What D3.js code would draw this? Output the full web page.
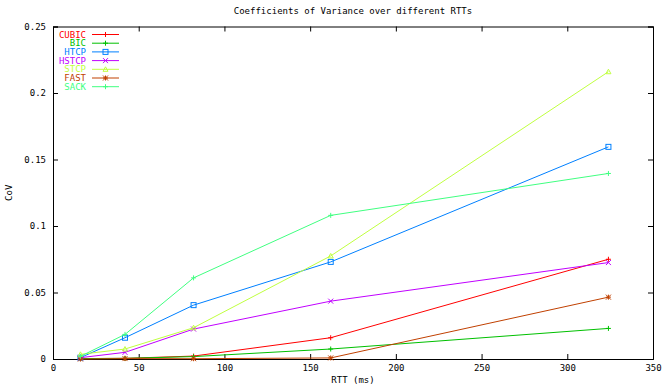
<!DOCTYPE html>
<html>
<head>
<meta charset="utf-8">
<script src="https://cdn.jsdelivr.net/npm/d3@7"></script>
<style>
  body { margin: 0; background: #fff; }
  text { font-family: "DejaVu Sans Mono", monospace; font-size: 9px; fill: #000; }
</style>
</head>
<body>
<div id="chart"></div>
<script>
// RTT values (ms) on the x axis
const rtts = [16, 42, 82, 162, 324];

// CoV per protocol
const cubic = [0.0003, 0.0005, 0.0022, 0.016, 0.075];
const bic = [0.0003, 0.0005, 0.0018, 0.0075, 0.023];
const htcp = [0.001, 0.016, 0.0405, 0.073, 0.1595];
const hstcp = [0.001, 0.005, 0.0225, 0.0435, 0.0725];
const stcp = [0.0035, 0.0075, 0.0235, 0.0775, 0.216];
const fast = [0.0, 0.0003, 0.0002, 0.0008, 0.0465];
const sack = [0.002, 0.0185, 0.061, 0.108, 0.1395];

const seriesNames = ["CUBIC", "BIC", "HTCP", "HSTCP", "STCP", "FAST", "SACK"];
const seriesValues = [cubic, bic, htcp, hstcp, stcp, fast, sack];

const xTicks = [0, 50, 100, 150, 200, 250, 300, 350];
const yTicks = [0, 0.05, 0.1, 0.15, 0.2, 0.25];

const colors = ["#ff0000", "#00c000", "#0080ff", "#c000ff", "#c0ff40", "#c04000", "#40ff80"];
const markers = ["plus", "plus", "box", "cross", "triangle", "star", "plus"];

const width = 669, height = 386;
const margin = { top: 26.5, right: 16, bottom: 27, left: 53 };

const x = d3.scaleLinear().domain([0, 350]).range([margin.left, width - margin.right]);
const y = d3.scaleLinear().domain([0, 0.25]).range([height - margin.bottom, margin.top]);

const svg = d3.select("#chart").append("svg")
  .attr("width", width)
  .attr("height", height);

// title
svg.append("text")
  .attr("x", (x(0) + x(350)) / 2)
  .attr("y", 14)
  .attr("text-anchor", "middle")
  .text("Coefficients of Variance over different RTTs");

// axes with inward ticks, mirrored on top and right
const tickLen = 5;
svg.append("g")
  .attr("transform", `translate(0,${y(0)})`)
  .call(d3.axisBottom(x).tickValues(xTicks).tickSize(-tickLen).tickPadding(6).tickFormat(d3.format("d")));
svg.append("g")
  .attr("transform", `translate(0,${y(0.25)})`)
  .call(d3.axisTop(x).tickValues(xTicks).tickSize(-tickLen).tickFormat(""));
svg.append("g")
  .attr("transform", `translate(${x(0)},0)`)
  .call(d3.axisLeft(y).tickValues(yTicks).tickSize(-tickLen).tickPadding(7).tickFormat(d => d === 0 ? "0" : d3.format("")(+d.toFixed(2))));
svg.append("g")
  .attr("transform", `translate(${x(350)},0)`)
  .call(d3.axisRight(y).tickValues(yTicks).tickSize(-tickLen).tickFormat(""));

svg.selectAll(".domain").attr("stroke", "#000");
svg.selectAll(".tick line").attr("stroke", "#000");
svg.selectAll(".tick text").style("font-family", "DejaVu Sans Mono, monospace").style("font-size", "9px");

// axis labels
svg.append("text")
  .attr("x", (x(0) + x(350)) / 2)
  .attr("y", 383)
  .attr("text-anchor", "middle")
  .text("RTT (ms)");
svg.append("text")
  .attr("transform", `translate(12,${(y(0) + y(0.25)) / 2}) rotate(-90)`)
  .attr("text-anchor", "middle")
  .text("CoV");

function drawMarker(g, type, cx, cy, color) {
  const s = 2.5;
  if (type === "plus") {
    g.append("path").attr("d", `M${cx - s},${cy}H${cx + s}M${cx},${cy - s}V${cy + s}`)
      .attr("stroke", color).attr("fill", "none");
  } else if (type === "cross") {
    g.append("path").attr("d", `M${cx - s},${cy - s}L${cx + s},${cy + s}M${cx - s},${cy + s}L${cx + s},${cy - s}`)
      .attr("stroke", color).attr("fill", "none");
  } else if (type === "star") {
    g.append("path").attr("d", `M${cx - s},${cy - s}L${cx + s},${cy + s}M${cx - s},${cy + s}L${cx + s},${cy - s}M${cx - s},${cy}H${cx + s}M${cx},${cy - s}V${cy + s}`)
      .attr("stroke", color).attr("fill", "none");
  } else if (type === "box") {
    g.append("rect").attr("x", cx - s).attr("y", cy - s).attr("width", 2 * s).attr("height", 2 * s)
      .attr("stroke", color).attr("fill", "none");
  } else if (type === "triangle") {
    g.append("path").attr("d", `M${cx},${cy - s}L${cx + s},${cy + s * 0.8}L${cx - s},${cy + s * 0.8}Z`)
      .attr("stroke", color).attr("fill", "none");
  }
}

const line = d3.line().x(d => x(d[0])).y(d => y(d[1]));

seriesValues.forEach(function (vals, i) {
  const pts = rtts.map((r, j) => [r, vals[j]]);
  const g = svg.append("g");
  g.append("path")
    .attr("d", line(pts))
    .attr("fill", "none")
    .attr("stroke", colors[i])
    .attr("stroke-width", 1);
  pts.forEach(p => drawMarker(g, markers[i], x(p[0]), y(p[1]), colors[i]));
});

// legend
const legend = svg.append("g");
seriesNames.forEach(function (name, i) {
  const ly = 34.5 + i * 8.7;
  legend.append("text")
    .attr("x", 86)
    .attr("y", ly)
    .attr("dy", "0.35em")
    .attr("text-anchor", "end")
    .style("fill", colors[i])
    .text(name);
  legend.append("line")
    .attr("x1", 92).attr("x2", 119)
    .attr("y1", ly).attr("y2", ly)
    .attr("stroke", colors[i]);
  drawMarker(legend, markers[i], 105.5, ly, colors[i]);
});
</script>
</body>
</html>
